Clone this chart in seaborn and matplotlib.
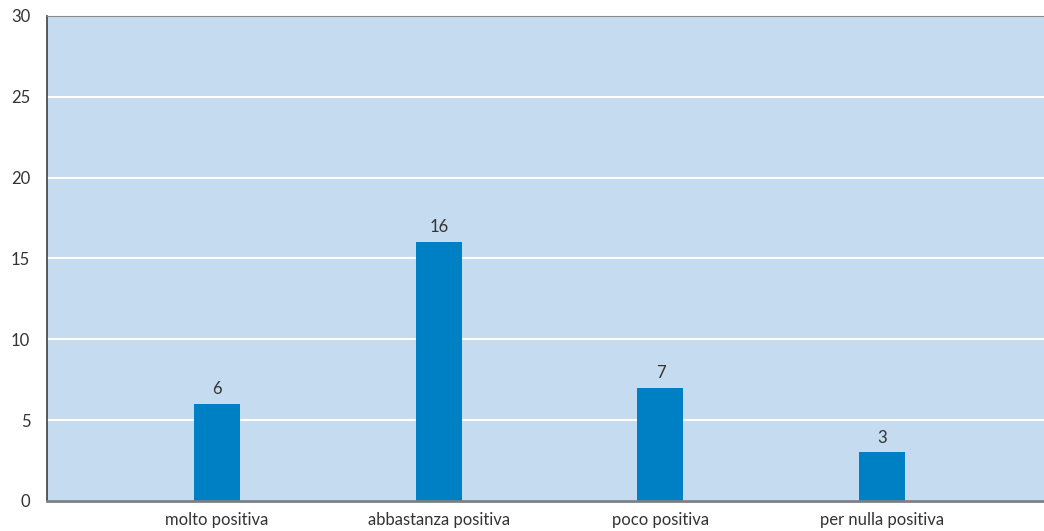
import matplotlib
matplotlib.use("Agg")
import matplotlib.pyplot as plt
import seaborn as sns
import pandas as pd

categories = ["molto positiva", "abbastanza positiva", "poco positiva", "per nulla positiva"]
values = [6, 16, 7, 3]
yticks = [0, 5, 10, 15, 20, 25, 30]

sns.set_theme(style="white")
plt.rcParams['font.family'] = ['Lato', 'DejaVu Sans']

df = pd.DataFrame({"cat": categories, "val": values})

fig = plt.figure(figsize=(10.44, 5.31), dpi=100)
ax = fig.add_axes([0.045, 0.0565, 0.955, 0.9134])
ax.set_facecolor("#C5DBEF")
sns.barplot(data=df, x="cat", y="val", color="#0080C4", width=0.207, ax=ax,
            saturation=1, edgecolor="none", linewidth=0)
ax.set_xlim(-0.767, 3.73)
ax.set_ylim(0, 30)
ax.set_yticks(yticks)
ax.set_yticklabels([str(t) for t in yticks], fontsize=12, color="#333333")
ax.tick_params(axis="x", labelsize=12, colors="#333333", length=0, pad=8)
ax.tick_params(axis="y", length=0, pad=12)
ax.yaxis.grid(True, color="white", linewidth=1.5)
ax.set_axisbelow(True)
ax.set_xlabel("")
ax.set_ylabel("")
ax.spines["right"].set_visible(False)
ax.spines["left"].set_color("#404040")
ax.spines["left"].set_linewidth(1.2)
ax.spines["top"].set_color("#8A8A8A")
ax.spines["top"].set_linewidth(0.8)
ax.spines["bottom"].set_color("#7A8088")
ax.spines["bottom"].set_linewidth(2)
for c in ax.containers:
    ax.bar_label(c, labels=[str(v) for v in values], padding=5, fontsize=12, color="#333333")
fig.savefig("out.png", dpi=100)
